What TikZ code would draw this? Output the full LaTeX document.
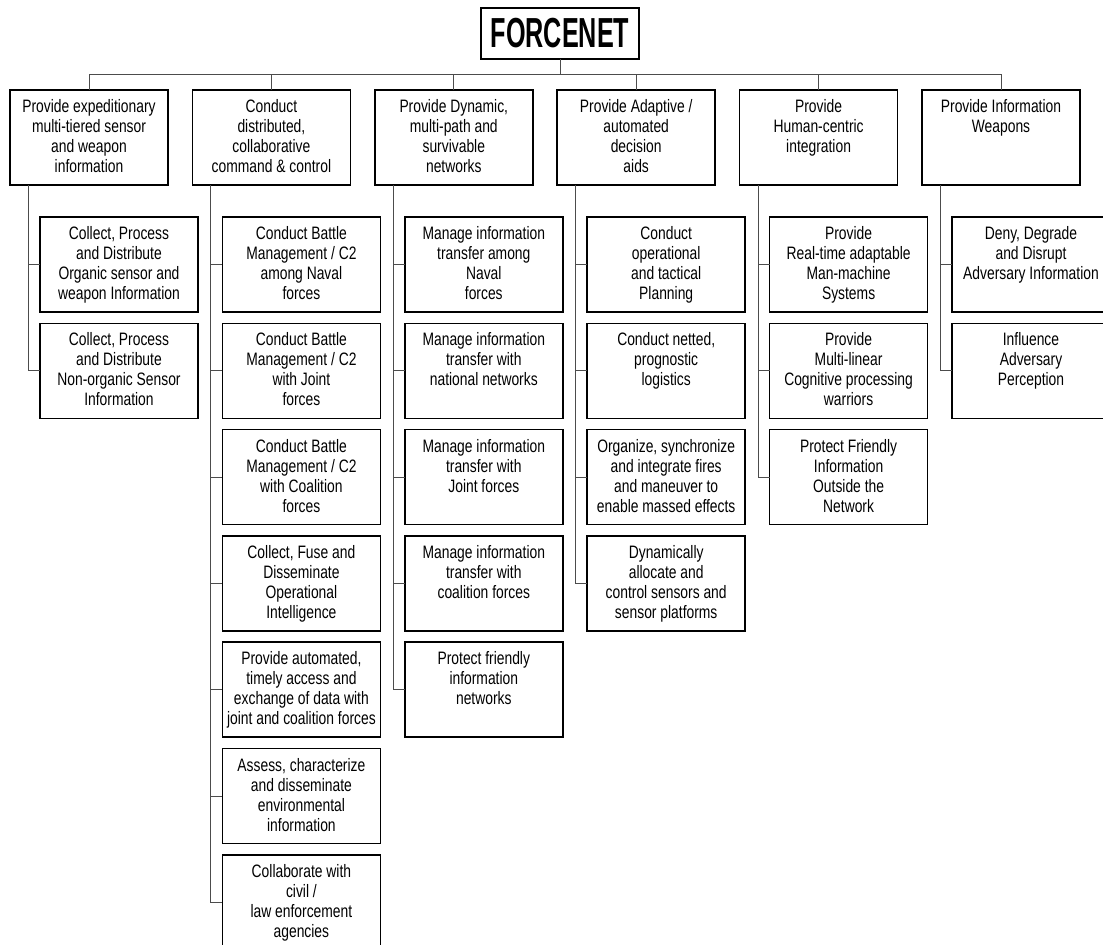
\documentclass[tikz,border=0pt]{standalone}
\usepackage{fontspec}
\setmainfont{Liberation Sans}[FakeStretch=0.77]
\newfontfamily\titlefont{Liberation Sans}[FakeStretch=0.6]
\tikzset{
  box/.style={draw=black, line width=1.6pt, inner sep=0pt, outer sep=0pt, fill=white},
  titlebox/.style={draw=black, line width=1.6pt, inner sep=0pt, outer sep=0pt, fill=white,
    minimum width=158pt, minimum height=51pt, font=\titlefont\bfseries\fontsize{42pt}{44pt}\selectfont},
  conn/.style={draw=black!70, line width=1pt},
}
\newcommand\bt[1]{\parbox[c][95pt][t]{158pt}{\centering\fontsize{18pt}{20pt}\selectfont\vspace*{8.5pt}\strut#1\par}}
\newcommand\parentbox[3]{\node[box, anchor=north west] (#1) at ({10+182.4*#2},90) {\bt{#3}};}
\newcommand\childbox[4]{\node[box, anchor=north west] (#1) at ({40+182.4*#2},{217+106.3*#3}) {\bt{#4}};}
\begin{document}
\begin{tikzpicture}[x=1pt,y=-1pt]
\fill[white] (0,0) rectangle (1103,945);
\useasboundingbox (0,0) rectangle (1103,945);
\coordinate (bus) at (0,74);
\node[titlebox] (top) at (560,33.5) {FORCENET};
% level 1
\parentbox{p1}{0}{Provide expeditionary\\multi-tiered sensor\\and weapon\\information}
\parentbox{p2}{1}{Conduct\\distributed,\\collaborative\\command \& control}
\parentbox{p3}{2}{Provide Dynamic,\\multi-path and\\survivable\\networks}
\parentbox{p4}{3}{Provide Adaptive /\\automated\\decision\\aids}
\parentbox{p5}{4}{Provide\\Human-centric\\integration}
\parentbox{p6}{5}{Provide Information\\Weapons}
% column 1
\childbox{s11}{0}{0}{Collect, Process\\and Distribute\\Organic sensor and\\weapon Information}
\childbox{s12}{0}{1}{Collect, Process\\and Distribute\\Non-organic Sensor\\Information}
% column 2
\childbox{s21}{1}{0}{Conduct Battle\\Management / C2\\among Naval\\forces}
\childbox{s22}{1}{1}{Conduct Battle\\Management / C2\\with Joint\\forces}
\childbox{s23}{1}{2}{Conduct Battle\\Management / C2\\with Coalition\\forces}
\childbox{s24}{1}{3}{Collect, Fuse and\\Disseminate\\Operational\\Intelligence}
\childbox{s25}{1}{4}{Provide automated,\\timely access and\\exchange of data with\\joint and coalition forces}
\childbox{s26}{1}{5}{Assess, characterize\\and disseminate\\environmental\\information}
\childbox{s27}{1}{6}{Collaborate with\\civil /\\law enforcement\\agencies}
% column 3
\childbox{s31}{2}{0}{Manage information\\transfer among\\Naval\\forces}
\childbox{s32}{2}{1}{Manage information\\transfer with\\national networks}
\childbox{s33}{2}{2}{Manage information\\transfer with\\Joint forces}
\childbox{s34}{2}{3}{Manage information\\transfer with\\coalition forces}
\childbox{s35}{2}{4}{Protect friendly\\information\\networks}
% column 4
\childbox{s41}{3}{0}{Conduct\\operational\\and tactical\\Planning}
\childbox{s42}{3}{1}{Conduct netted,\\prognostic\\logistics}
\childbox{s43}{3}{2}{Organize, synchronize\\and integrate fires\\and maneuver to\\enable massed effects}
\childbox{s44}{3}{3}{Dynamically\\allocate and\\control sensors and\\sensor platforms}
% column 5
\childbox{s51}{4}{0}{Provide\\Real-time adaptable\\Man-machine\\Systems}
\childbox{s52}{4}{1}{Provide\\Multi-linear\\Cognitive processing\\warriors}
\childbox{s53}{4}{2}{Protect Friendly\\Information\\Outside the\\Network}
% column 6
\childbox{s61}{5}{0}{Deny, Degrade\\and Disrupt\\Adversary Information}
\childbox{s62}{5}{1}{Influence\\Adversary\\Perception}
% connectors: root to level 1
\draw[conn] (top.south) -- (top.south |- bus);
\draw[conn] (p1.north) -- (p1.north |- bus) -- (p6.north |- bus) -- (p6.north);
\foreach \p in {p2,p3,p4,p5} { \draw[conn] (\p.north) -- (\p.north |- bus); }
% connectors: level 1 to children
\foreach \p/\list in {p1/{s11,s12}, p2/{s21,s22,s23,s24,s25,s26,s27}, p3/{s31,s32,s33,s34,s35},
                      p4/{s41,s42,s43,s44}, p5/{s51,s52,s53}, p6/{s61,s62}} {
  \foreach \s in \list { \draw[conn] ([xshift=18.5pt]\p.south west) |- (\s.west); }
}
\end{tikzpicture}
\end{document}
